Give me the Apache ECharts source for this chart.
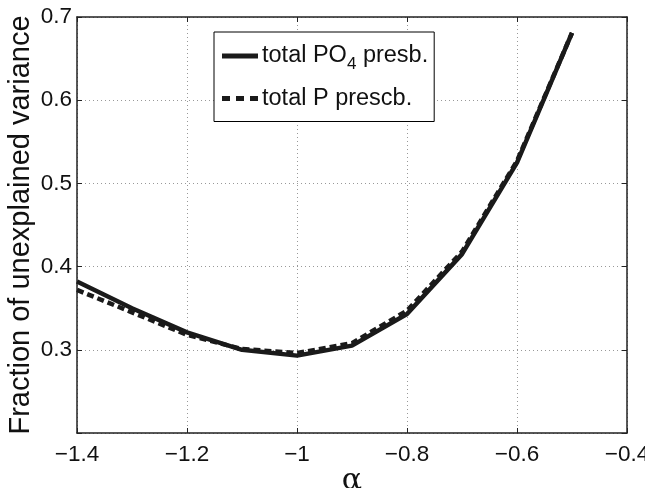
<!DOCTYPE html>
<html>
<head>
<meta charset="utf-8">
<script src="https://cdn.jsdelivr.net/npm/echarts@6/dist/echarts.min.js"></script>
<style>
  html, body { margin: 0; padding: 0; background: #fff; }
  #main { width: 645px; height: 488px; }
</style>
</head>
<body>
<div id="main"></div>
<script>
    // alpha values
    var alpha = [-1.4, -1.3, -1.2, -1.1, -1.0, -0.9, -0.8, -0.7, -0.6, -0.5];
    // fraction of unexplained variance
    var totalPO4 = [0.382, 0.350, 0.321, 0.300, 0.293, 0.305, 0.343, 0.415, 0.525, 0.681];
    var totalP = [0.372, 0.345, 0.318, 0.301, 0.296, 0.308, 0.347, 0.418, 0.527, 0.681];
    var xTicks = [-1.4, -1.2, -1, -0.8, -0.6, -0.4];
    var yTicks = [0.3, 0.4, 0.5, 0.6, 0.7];

    function pairs(xs, ys) {
        return xs.map(function (x, i) { return [x, ys[i]]; });
    }

    var font = 'Liberation Sans, Arial, sans-serif';
    var gridLine = { show: true, lineStyle: { color: '#999', type: [1, 3], width: 1 } };
    var frame = { show: true, onZero: false, lineStyle: { color: '#222', width: 1.5 } };
    var tick = { show: true, inside: true, length: 5, lineStyle: { color: '#222' } };

    // legend sample icons
    var solidIcon = 'path://M0,0L36,0L36,5L0,5Z';
    var dashIcon = 'path://M0,0L8,0L8,5L0,5ZM14,0L22,0L22,5L14,5ZM28,0L36,0L36,5L28,5Z';

    var chart = echarts.init(document.getElementById('main'));
    var option = {
        backgroundColor: '#fff',
        animation: false,
        grid: { left: 77, right: 18, top: 17, bottom: 55, outerBoundsMode: 'none', containLabel: false },
        legend: {
            orient: 'vertical',
            left: 214,
            top: 32,
            padding: [12, 6, 11, 8],
            itemGap: 14,
            itemWidth: 36,
            itemHeight: 5,
            borderColor: '#000',
            borderWidth: 1,
            backgroundColor: '#fff',
            data: [
                { name: 'total PO4 presb.', icon: solidIcon, itemStyle: { color: '#1a1a1a' } },
                { name: 'total P prescb.', icon: dashIcon, itemStyle: { color: '#1a1a1a' } }
            ],
            formatter: function (name) {
                if (name === 'total PO4 presb.') return 'total PO{sub|4} presb.';
                return name;
            },
            textStyle: {
                fontFamily: font, fontSize: 23.5, color: '#111', padding: [0, 0, 0, -1],
                rich: {
                    sub: { fontFamily: font, fontSize: 17, color: '#111', padding: [16, 0, 0, 0] }
                }
            }
        },
        xAxis: [{
            type: 'value',
            min: -1.4, max: -0.4, interval: 0.2,
            name: 'α',
            nameLocation: 'middle',
            nameGap: 33,
            nameMoveOverlap: false,
            nameTextStyle: { fontFamily: 'DejaVu Serif, serif', fontSize: 30, color: '#111' },
            axisLine: frame,
            axisTick: tick,
            axisLabel: {
                fontFamily: font, fontSize: 22.5, color: '#111', margin: 10,
                formatter: function (v) {
                    var t = xTicks.find(function (k) { return Math.abs(k - v) < 1e-6; });
                    return t === undefined ? '' : String(t).replace('-', '\u2212');
                }
            },
            splitLine: gridLine
        }, {
            type: 'value', position: 'top',
            min: -1.4, max: -0.4, interval: 0.2,
            axisLine: frame,
            axisTick: tick,
            axisLabel: { show: false },
            splitLine: { show: false }
        }],
        yAxis: [{
            type: 'value',
            min: 0.2, max: 0.7, interval: 0.1,
            name: 'Fraction of unexplained variance',
            nameLocation: 'middle',
            nameGap: 42,
            nameMoveOverlap: false,
            nameTextStyle: { fontFamily: font, fontSize: 29, color: '#111' },
            axisLine: frame,
            axisTick: tick,
            axisLabel: {
                fontFamily: font, fontSize: 22.5, color: '#111', margin: 5,
                formatter: function (v) {
                    var t = yTicks.find(function (k) { return Math.abs(k - v) < 1e-6; });
                    return t === undefined ? '' : t.toFixed(1);
                }
            },
            splitLine: gridLine
        }, {
            type: 'value', position: 'right',
            min: 0.2, max: 0.7, interval: 0.1,
            axisLine: frame,
            axisTick: tick,
            axisLabel: { show: false },
            splitLine: { show: false }
        }],
        series: [{
            name: 'total P prescb.',
            type: 'line',
            data: pairs(alpha, totalP),
            symbol: 'none',
            lineStyle: { color: '#1a1a1a', width: 4.5, type: [7, 4] },
            itemStyle: { color: '#1a1a1a' },
            z: 2
        }, {
            name: 'total PO4 presb.',
            type: 'line',
            data: pairs(alpha, totalPO4),
            symbol: 'none',
            lineStyle: { color: '#1a1a1a', width: 4.5 },
            itemStyle: { color: '#1a1a1a' },
            z: 3
        }]
    };
    chart.setOption(option);
</script>
</body>
</html>
